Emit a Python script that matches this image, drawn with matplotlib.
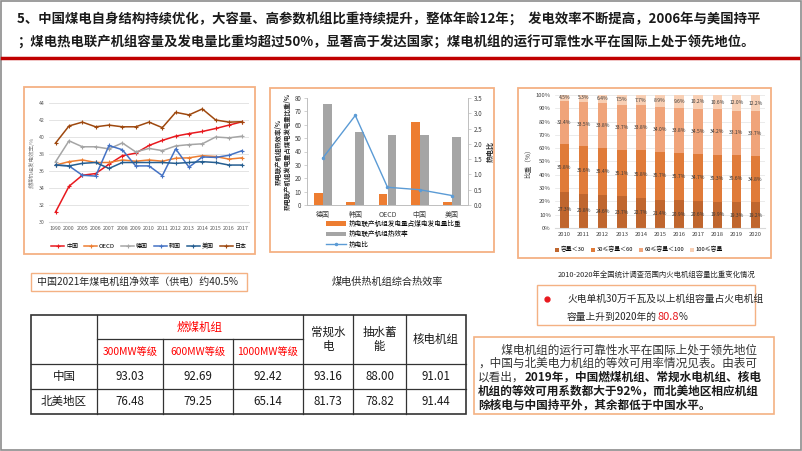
import matplotlib
matplotlib.use('Agg')
import matplotlib.pyplot as plt
from matplotlib.patches import Rectangle
import numpy as np

plt.rcParams['font.family'] = ['Noto Sans CJK SC', 'DejaVu Sans']
plt.rcParams['axes.unicode_minus'] = False

# ---------------- 数据 ----------------
# 图1 燃煤机组发电效率
years = ['1990', '2000', '2005', '2006', '2007', '2008', '2009', '2010',
         '2011', '2012', '2013', '2014', '2015', '2016', '2017']
eff_china = [31.2, 34.2, 35.5, 35.7, 36.8, 37.8, 38.1, 39.0, 39.6, 40.1, 40.4, 40.65, 41.0, 41.4, 41.8]
eff_oecd = [36.7, 37.1, 37.3, 37.0, 37.0, 37.3, 37.15, 37.3, 37.15, 37.5, 37.55, 37.8, 37.7, 37.4, 37.55]
eff_germany = [37.1, 39.55, 38.85, 38.85, 38.6, 39.3, 38.25, 38.65, 38.4, 38.95, 39.1, 39.2, 40.0, 39.9, 40.1]
eff_korea = [36.7, 36.6, 35.5, 35.4, 39.0, 38.5, 36.6, 36.6, 35.45, 38.6, 36.45, 37.65, 37.6, 37.85, 38.4]
eff_usa = [36.7, 36.6, 36.9, 37.0, 36.3, 37.0, 37.0, 37.0, 37.0, 36.9, 37.0, 37.1, 37.0, 36.7, 36.7]
eff_japan = [39.3, 41.3, 41.75, 41.2, 41.4, 41.2, 41.2, 41.75, 41.1, 42.9, 42.6, 43.3, 42.0, 41.75, 41.8]

# 图2 热电联产
chp_countries = ['德国', '韩国', 'OECD', '中国', '美国']
chp_share = [9, 2.5, 8.5, 62, 2]
chp_eff = [75.5, 54.5, 52.5, 52, 50.5]
heat_power_ratio = [1.55, 2.93, 0.58, 0.5, 0.31]

# 图3 火电机组容量比重
cap_years = ['2010', '2011', '2012', '2013', '2014', '2015', '2016', '2017', '2018', '2019', '2020']
cap_lt30 = [27.3, 25.8, 24.6, 23.7, 22.7, 21.4, 20.9, 20.6, 19.9, 19.3, 19.2]
cap_30_60 = [35.8, 35.6, 35.4, 35.1, 35.8, 35.7, 35.7, 34.7, 35.3, 35.6, 34.8]
cap_60_100 = [32.4, 33.5, 33.8, 33.7, 33.8, 34.0, 33.8, 34.5, 34.2, 33.1, 33.7]
cap_ge100 = [4.5, 5.3, 6.4, 7.5, 7.7, 8.9, 9.6, 10.2, 10.6, 12.0, 12.2]
cap_labels = ['容量＜30', '30≤容量＜60', '60≤容量＜100', '100≤容量']

# 表 等效可用系数
tbl_regions = ['中国', '北美地区']
tbl_sub = ['300MW等级', '600MW等级', '1000MW等级']
tbl_other = ['常规水\n电', '抽水蓄\n能', '核电机组']
tbl_china = [93.03, 92.69, 92.42, 93.16, 88.00, 91.01]
tbl_na = [76.48, 79.25, 65.14, 81.73, 78.82, 91.44]

W, H = 802, 451
fig = plt.figure(figsize=(W / 100, H / 100), dpi=100)


def box(l, t, r, b):
    return [l / W, 1 - b / H, (r - l) / W, (b - t) / H]


# 覆盖层(像素坐标)
ov = fig.add_axes([0, 0, 1, 1])
ov.set_xlim(0, W)
ov.set_ylim(H, 0)
ov.axis('off')

ov.add_patch(Rectangle((1, 1), W - 2, H - 2, fill=False, ec='#8C8C8C', lw=1.2))
ov.text(17, 20, '5、中国煤电自身结构持续优化，大容量、高参数机组比重持续提升，整体年龄12年；  发电效率不断提高，2006年与美国持平',
        fontsize=9.6, fontweight='bold', va='center', color='#1a1a1a')
ov.text(17, 43, '；煤电热电联产机组容量及发电量比重均超过50%，显著高于发达国家；煤电机组的运行可靠性水平在国际上处于领先地位。',
        fontsize=9.6, fontweight='bold', va='center', color='#1a1a1a')
ov.plot([2, 798], [58, 58], color='#C00000', lw=2.5)

border = '#F4B183'
for (l, t, r, b) in [(24, 87, 255, 254), (270, 88, 494, 252), (518, 88, 771, 258)]:
    ov.add_patch(Rectangle((l, t), r - l, b - t, fill=False, ec=border, lw=1.3))

# ---------------- 图1 ----------------
ax1 = fig.add_axes(box(49, 103, 249, 222))
x = np.arange(len(years))
series = [('中国', eff_china, '#E8191E'), ('OECD', eff_oecd, '#ED7D31'),
          ('德国', eff_germany, '#A5A5A5'), ('韩国', eff_korea, '#4472C4'),
          ('美国', eff_usa, '#255E91'), ('日本', eff_japan, '#9E480E')]
for name, vals, c in series:
    ax1.plot(x, vals, color=c, lw=1.1, marker='+', ms=2.5, mew=0.8, label=name)
ax1.set_xlim(-0.5, len(years) - 0.5)
ax1.set_ylim(30, 44)
ax1.set_yticks(range(30, 45, 2))
ax1.set_xticks(x)
ax1.set_xticklabels(years)
ax1.yaxis.grid(True, color='#D9D9D9', lw=0.5)
ax1.set_axisbelow(True)
for s in ['top', 'right', 'left']:
    ax1.spines[s].set_visible(False)
ax1.spines['bottom'].set_color('#D9D9D9')
ax1.tick_params(length=0, labelsize=3.8, labelcolor='#595959', pad=3)
ax1.set_facecolor('none')
ax1.set_ylabel('燃煤机组发电效率/%', fontsize=4, color='#7F7F7F', labelpad=3)
ax1.legend(loc='upper center', bbox_to_anchor=(0.5, -0.13), ncol=6, fontsize=4.3,
           frameon=False, handlelength=2.2, columnspacing=1.0, handletextpad=0.3)

# ---------------- 图2 ----------------
ax2 = fig.add_axes(box(307, 98, 468, 205))
xc = np.arange(len(chp_countries))
ax2.bar(xc - 0.14, chp_share, width=0.27, color='#ED7D31', label='热电联产机组发电量占煤电发电量比重')
ax2.bar(xc + 0.14, chp_eff, width=0.27, color='#A5A5A5', label='热电联产机组热效率')
ax2.set_ylim(0, 80)
ax2.set_yticks(range(0, 81, 10))
ax2.set_xlim(-0.5, len(chp_countries) - 0.5)
ax2.set_xticks(xc)
ax2.set_xticklabels(chp_countries)
ax2.set_facecolor('none')
ax2b = ax2.twinx()
ax2b.plot(xc, heat_power_ratio, color='#5B9BD5', lw=1.0, marker='o', ms=1.5, label='热电比')
ax2b.set_ylim(0, 3.5)
ax2b.set_yticks(np.arange(0, 3.51, 0.5))
ax2b.set_yticklabels([f'{v:.1f}' for v in np.arange(0, 3.51, 0.5)])
for a in (ax2, ax2b):
    a.spines['top'].set_visible(False)
    for s in ['left', 'right', 'bottom']:
        a.spines[s].set_color('#BFBFBF')
        a.spines[s].set_linewidth(0.6)
    a.tick_params(labelsize=4.5, labelcolor='#404040', length=2, width=0.5, color='#BFBFBF', pad=2)
ax2.tick_params(axis='x', length=0, labelsize=5, pad=4)
ax2.set_ylabel('热电联产机组热效率/%\n热电联产机组发电量占煤电发电量比重/%',
               fontsize=4.6, fontweight='bold', color='#262626', labelpad=3, linespacing=1.3)
ax2b.set_ylabel('热电比', fontsize=5, fontweight='bold', color='#262626', labelpad=3)
h1, l1 = ax2.get_legend_handles_labels()
h2, l2 = ax2b.get_legend_handles_labels()
fig.legend(h1 + h2, l1 + l2, loc='upper left', bbox_to_anchor=(326 / W, 1 - 220 / H),
           fontsize=4.8, frameon=False, labelspacing=0.35, handlelength=3.0,
           handletextpad=0.4, borderaxespad=0, borderpad=0)

# ---------------- 图3 ----------------
ax3 = fig.add_axes(box(555, 95, 765, 228))
xs = np.arange(len(cap_years))
cap_colors = ['#C0662E', '#E07B39', '#F0A47A', '#F8CFB4']
bottom = np.zeros(len(cap_years))
for vals, c, lab in zip([cap_lt30, cap_30_60, cap_60_100, cap_ge100], cap_colors, cap_labels):
    vals = np.array(vals)
    ax3.bar(xs, vals, bottom=bottom, width=0.5, color=c, label=lab, zorder=2)
    for i, v in enumerate(vals):
        ax3.text(xs[i], bottom[i] + v / 2 if v > 6 else bottom[i] + v / 2 + 0.5, f'{v:.1f}%',
                 ha='center', va='center', fontsize=3.6, color='#3A3A3A', zorder=3)
    bottom += vals
ax3.set_ylim(0, 100)
ax3.set_yticks(range(0, 101, 10))
ax3.set_yticklabels([f'{v}%' for v in range(0, 101, 10)])
ax3.set_xlim(-0.5, len(cap_years) - 0.5)
ax3.set_xticks(xs)
ax3.set_xticklabels(cap_years)
ax3.yaxis.grid(True, color='#E3E3E3', lw=0.5, zorder=0)
for s in ['top', 'right', 'left']:
    ax3.spines[s].set_visible(False)
ax3.spines['bottom'].set_color('#D9D9D9')
ax3.tick_params(length=0, labelsize=4.2, labelcolor='#404040', pad=3)
ax3.set_facecolor('none')
ax3.set_ylabel('比重（%）', fontsize=4.8, color='#404040', labelpad=3)
ax3.legend(loc='upper center', bbox_to_anchor=(0.4, -0.1), ncol=4, fontsize=4.2, frameon=False,
           handlelength=0.7, handleheight=0.7, columnspacing=1.0, handletextpad=0.3)

# ---------------- 文字说明 ----------------
ov.add_patch(Rectangle((31, 273), 216, 18, fill=False, ec=border, lw=1.0))
ov.text(37, 282, '中国2021年煤电机组净效率（供电）约40.5%', fontsize=7.2, va='center', color='#262626')
ov.text(387, 282, '煤电供热机组综合热效率', fontsize=7.3, ha='center', va='center', color='#262626')
ov.text(657, 275, '2010-2020年全国统计调查范围内火电机组容量比重变化情况', fontsize=5.3,
        ha='center', va='center', color='#262626')

ov.add_patch(Rectangle((537, 285), 218, 40, fill=False, ec=border, lw=1.0))
ov.plot([547], [299], 'o', color='#E8191E', ms=3.5)
ov.text(567, 299, '火电单机30万千瓦及以上机组容量占火电机组', fontsize=7, va='center', color='#262626')
t = ov.text(567, 317, '容量上升到2020年的', fontsize=7, va='center', color='#262626')
t2 = ov.annotate('80.8', xy=(1, 0.5), xycoords=t, fontsize=8, va='center', color='#E8191E')
ov.annotate('%', xy=(1, 0.5), xycoords=t2, fontsize=7, va='center', color='#262626')

ov.add_patch(Rectangle((474, 337), 300, 77, fill=False, ec=border, lw=1.2))
fs = 8.4
ov.text(478, 350, '　　煤电机组的运行可靠性水平在国际上处于领先地位', fontsize=fs, va='center', color='#333333')
ov.text(478, 363, '，中国与北美电力机组的等效可用率情况见表。由表可', fontsize=fs, va='center', color='#333333')
t = ov.text(478, 377, '以看出，', fontsize=fs, va='center', color='#333333')
ov.annotate('2019年，中国燃煤机组、常规水电机组、核电', xy=(1, 0.5), xycoords=t, fontsize=fs,
            va='center', fontweight='bold', color='#1a1a1a')
ov.text(478, 391, '机组的等效可用系数都大于92%，而北美地区相应机组', fontsize=fs, va='center',
        fontweight='bold', color='#1a1a1a')
ov.text(478, 405, '除核电与中国持平外，其余都低于中国水平。', fontsize=fs, va='center',
        fontweight='bold', color='#1a1a1a')

# ---------------- 表格 ----------------
cx = [31, 97, 163, 233, 303, 353, 406, 466]
ry = [315, 339, 364, 389, 414]
lc = '#333333'
ov.add_patch(Rectangle((cx[0], ry[0]), cx[-1] - cx[0], ry[-1] - ry[0], fill=False, ec=lc, lw=1.2))
for xv in [cx[1], cx[4], cx[5], cx[6]]:
    ov.plot([xv, xv], [ry[0], ry[-1]], color=lc, lw=0.9)
for xv in [cx[2], cx[3]]:
    ov.plot([xv, xv], [ry[1], ry[-1]], color=lc, lw=0.9)
ov.plot([cx[1], cx[4]], [ry[1], ry[1]], color=lc, lw=0.9)
for yv in [ry[2], ry[3]]:
    ov.plot([cx[0], cx[-1]], [yv, yv], color=lc, lw=0.9)

tfs = 8.3
ov.text((cx[1] + cx[4]) / 2, (ry[0] + ry[1]) / 2, '燃煤机组', fontsize=tfs, ha='center', va='center', color='#FF0000')
for i, s in enumerate(tbl_sub):
    ov.text((cx[1 + i] + cx[2 + i]) / 2, (ry[1] + ry[2]) / 2, s, fontsize=7.4, ha='center', va='center', color='#FF0000')
for i, s in enumerate(tbl_other):
    ov.text((cx[4 + i] + cx[5 + i]) / 2, (ry[0] + ry[2]) / 2, s, fontsize=tfs, ha='center', va='center',
            color='#1a1a1a', linespacing=1.15)
for r, (name, vals) in enumerate(zip(tbl_regions, [tbl_china, tbl_na])):
    yc = (ry[2 + r] + ry[3 + r]) / 2
    ov.text((cx[0] + cx[1]) / 2, yc, name, fontsize=tfs, ha='center', va='center', color='#1a1a1a')
    for j, v in enumerate(vals):
        ov.text((cx[1 + j] + cx[2 + j]) / 2, yc, f'{v:.2f}', fontsize=tfs, ha='center', va='center', color='#1a1a1a')

fig.savefig('out.png', dpi=100)
